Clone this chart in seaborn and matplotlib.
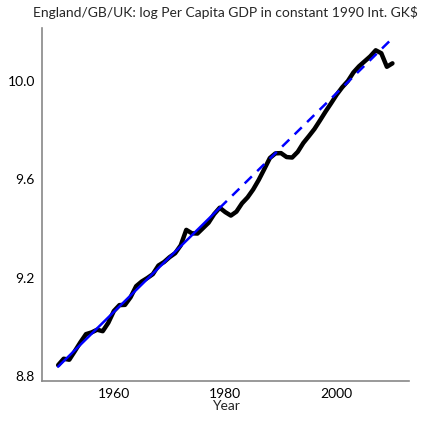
#log per capita GDP for England/GB/UK with a linear trend fitted on 1950-1979
import numpy as np
import pandas as pd
import matplotlib
matplotlib.use("Agg")
import matplotlib.pyplot as plt
import seaborn as sns

#data
years = list(range(1950, 2011))
log_gdp = [
    8.845, 8.871, 8.867, 8.902, 8.938, 8.971, 8.978, 8.989, 8.983, 9.017,
    9.065, 9.089, 9.090, 9.121, 9.166, 9.185, 9.199, 9.215, 9.250, 9.264,
    9.284, 9.300, 9.332, 9.395, 9.381, 9.380, 9.402, 9.424, 9.459, 9.485,
    9.467, 9.453, 9.469, 9.503, 9.527, 9.559, 9.598, 9.642, 9.687, 9.706,
    9.707, 9.691, 9.689, 9.712, 9.748, 9.776, 9.805, 9.840, 9.876, 9.910,
    9.945, 9.975, 10.000, 10.035, 10.060, 10.080, 10.100, 10.125, 10.113, 10.058,
    10.072,
]
fit_end = 1979
x_ticks = [1960, 1980, 2000]
y_ticks = [8.8, 9.2, 9.6, 10.0]

df = pd.DataFrame({"Year": years, "lgdp": log_gdp})

#linear trend on the early period, extrapolated to the end
early = df[df["Year"] <= fit_end]
slope, intercept = np.polyfit(early["Year"], early["lgdp"], 1)
trend_in = pd.DataFrame({"Year": [1950, fit_end]})
trend_in["fit"] = intercept + slope * trend_in["Year"]
trend_out = pd.DataFrame({"Year": [fit_end, 2010]})
trend_out["fit"] = intercept + slope * trend_out["Year"]

sns.set_style("white")
plt.rcParams["font.family"] = ["Lato", "DejaVu Sans"]

fig = plt.figure(figsize=(4.24, 4.23), dpi=100)
ax = fig.add_axes([0.099, 0.099, 0.866, 0.835])

sns.lineplot(data=df, x="Year", y="lgdp", ax=ax, color="black", linewidth=3.2)
sns.lineplot(data=trend_in, x="Year", y="fit", ax=ax, color="blue", linewidth=1.8)
sns.lineplot(data=trend_out, x="Year", y="fit", ax=ax, color="blue",
             linewidth=1.8, dashes=False, linestyle=(0, (4, 3)))

ax.set_xlim(1947.1, 2013)
ax.set_ylim(8.78, 10.216)
ax.set_xticks(x_ticks)
ax.set_yticks(y_ticks)
ax.set_yticklabels([f"{v:.1f}" for v in y_ticks])
ax.set_xlabel("Year", fontsize=10, labelpad=0)
ax.set_ylabel("")
ax.set_title("England/GB/UK: log Per Capita GDP in constant 1990 Int. GK$",
             fontsize=10, pad=8)

sns.despine(ax=ax)
for side in ["left", "bottom"]:
    ax.spines[side].set_color("#888888")
    ax.spines[side].set_linewidth(1.2)
ax.tick_params(axis="both", colors="#888888", length=3, width=1,
               labelcolor="black", labelsize=10, pad=2)

fig.savefig("out.png", dpi=100)
